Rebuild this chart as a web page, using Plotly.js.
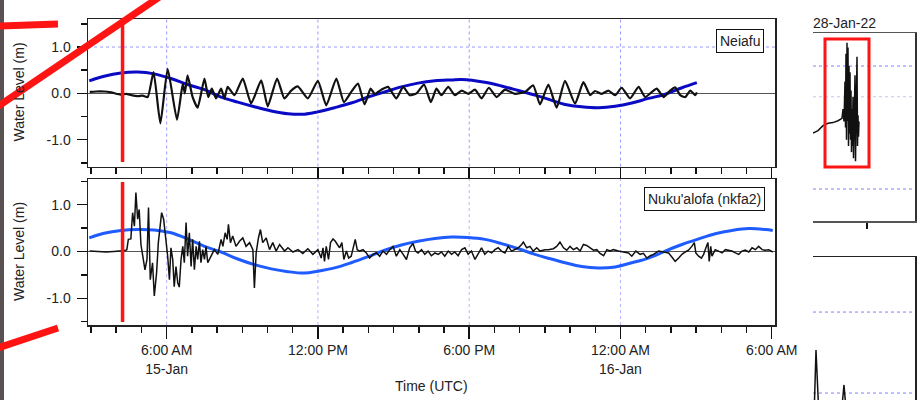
<!DOCTYPE html>
<html>
<head>
<meta charset="utf-8">
<script src="https://cdn.plot.ly/plotly-3.0.1.min.js"></script>
<style>html,body{margin:0;padding:0;background:#fff;}#chart{width:922px;height:400px;}</style>
</head>
<body>
<div id="chart"></div>
<script>
// ---------- data (hours since 2022-01-15 00:00 UTC, water level in m) ----------
const neiafuHours = [2.95,3.2,3.52,3.8,4.19,4.4,4.6,4.85,5.05,5.25,5.48,5.75,6.04,6.41,6.64,6.72,6.83,7.03,7.23,7.5,7.65,7.79,7.96,8.16,8.29,8.42,8.69,9.02,9.35,9.75,10.01,10.38,10.67,10.94,11.2,11.6,12.0,12.33,12.73,13.03,13.32,13.59,13.85,14.09,14.25,14.52,14.78,15.11,15.38,15.64,15.91,16.21,16.48,16.7,16.9,17.17,17.43,17.7,17.96,18.23,18.49,18.78,19.09,19.42,19.81,20.21,20.54,20.81,21.14,21.47,21.8,22.2,22.53,22.8,22.99,23.26,23.52,23.79,24.05,24.38,24.72,24.98,25.25,25.44,25.71,25.97,26.17,26.37,26.57,26.77,26.97,27.03];
const neiafuLevel = [0.03,0.04,0.04,0.02,-0.03,-0.01,-0.04,-0.06,-0.05,-0.08,0.46,-0.65,0.53,-0.57,0.21,0.0,0.39,-0.08,-0.31,0.32,-0.08,0.10,-0.11,0.10,-0.11,0.14,-0.04,0.32,-0.22,0.28,-0.28,0.32,-0.11,0.06,0.15,-0.11,0.27,-0.26,0.32,-0.19,0.03,0.21,-0.24,0.10,-0.01,0.08,0.14,-0.11,0.14,-0.04,0.0,0.19,-0.19,0.10,-0.04,0.14,-0.04,0.06,-0.01,0.08,-0.11,0.12,-0.08,0.08,-0.01,0.03,0.17,-0.24,0.19,-0.31,0.27,-0.22,0.24,-0.04,0.05,-0.01,0.06,-0.04,0.12,-0.11,0.14,-0.08,0.03,0.10,-0.08,0.06,0.13,-0.04,-0.08,0.06,-0.04,0.02];

const neiafuTideHours = [2.93,3.52,4.19,4.85,5.51,6.17,6.83,7.5,8.16,8.82,9.48,10.15,10.81,11.47,12.0,12.66,13.32,13.99,14.65,15.31,15.97,16.64,17.3,17.7,18.62,19.28,19.95,20.61,21.22,21.8,22.46,23.13,23.79,24.45,25.11,25.78,26.44,27.03];
const neiafuTide = [0.27,0.37,0.44,0.46,0.42,0.32,0.19,0.08,-0.08,-0.19,-0.29,-0.38,-0.44,-0.45,-0.40,-0.31,-0.21,-0.08,0.03,0.14,0.22,0.27,0.29,0.30,0.24,0.16,0.06,-0.04,-0.14,-0.24,-0.29,-0.31,-0.28,-0.21,-0.11,-0.02,0.12,0.23];

const nukuHoursA = [2.95,3.3,3.6,3.9,4.2,4.35,4.42,4.48,4.58,4.65,4.72,4.78,4.85,4.91,4.98,5.05,5.14,5.22,5.28,5.35,5.44,5.51,5.60,5.67,5.75,5.80,5.88,5.97,6.04,6.11,6.17,6.24,6.30,6.37,6.44,6.50,6.57,6.64,6.70,6.77,6.83,6.90,6.97,7.03,7.10,7.17,7.23,7.30,7.36,7.43,7.50,7.56,7.63,7.76,7.89,8.03,8.16,8.23,8.32,8.40,8.45,8.53,8.62,8.75,8.89,9.02,9.15,9.29,9.42,9.48,9.55,9.64,9.72,9.81,9.95,10.08,10.21,10.34,10.48,10.68,10.81,11.01,11.21,11.40,11.60,11.80,12.0];
const nukuLevelA = [0.01,0.0,-0.01,0.0,0.01,0.02,0.04,0.26,0.27,0.83,0.54,1.26,0.69,0.90,0.15,-0.10,-0.39,-0.17,0.94,-0.60,-0.24,-0.95,-0.46,0.19,0.62,0.83,0.69,0.29,-0.10,-0.60,0.08,-0.17,-0.75,-0.32,-0.67,-0.76,-0.17,0.11,-0.24,0.62,-0.10,0.40,-0.32,0.26,-0.39,0.11,-0.17,0.22,-0.24,0.04,-0.17,0.11,-0.24,-0.10,0.04,-0.06,0.26,0.11,0.40,0.26,0.58,0.19,0.33,0.11,0.22,0.29,0.11,0.19,0.04,-0.78,-0.03,0.29,0.47,0.19,0.29,0.04,0.19,0.01,0.15,0.01,0.08,-0.01,0.04,-0.04,0.06,-0.06,0.04];
const nukuHoursB = [12.13,12.20,12.26,12.33,12.42,12.50,12.60,12.69,12.77,12.86,12.95,13.03,13.13,13.22,13.32,13.42,13.48,13.56,13.66,13.79,13.92,14.05,14.19,14.32,14.45,14.58,14.72,14.85,14.98,15.11,15.25,15.38,15.51,15.64,15.77,15.87,15.97,16.11,16.24,16.37,16.50,16.64,16.77,16.90,17.03,17.17,17.30,17.43,17.56,17.70,17.83,17.96,18.09,18.23,18.36,18.49,18.62,18.75,18.89,19.02,19.15,19.28,19.42,19.55,19.68,19.81,19.95,20.08,20.15,20.28,20.41,20.54,20.68,20.81,21.01];
const nukuLevelB = [-0.14,0.08,-0.21,0.11,-0.17,0.19,0.27,0.22,0.15,0.08,0.19,-0.17,0.01,-0.14,-0.10,0.11,0.26,0.04,0.01,0.04,-0.03,-0.14,-0.06,-0.03,-0.10,0.01,-0.06,0.04,0.11,-0.10,0.04,-0.06,-0.17,0.08,0.17,0.01,-0.03,0.04,-0.06,0.01,-0.09,-0.03,-0.06,-0.01,-0.10,0.01,-0.06,-0.01,-0.09,0.04,0.08,-0.06,0.01,-0.17,-0.03,0.08,-0.06,0.01,-0.03,0.04,0.08,0.01,-0.03,0.11,0.01,0.04,0.08,0.15,0.20,0.08,0.11,0.01,0.08,0.01,0.04];
const nukuHoursC = [21.14,21.34,21.47,21.60,21.74,21.87,22.00,22.13,22.27,22.40,22.53,22.66,22.80,22.93,23.06,23.19,23.33,23.46,23.59,23.72,23.92,24.12,24.32,24.45,24.61,24.78,24.91,25.05,25.18,25.31,25.51,25.71,25.91,26.07,26.17,26.31,26.44,26.57,26.70,26.83,26.93,26.99,27.10,27.21,27.30,27.39,27.47,27.52,27.58,27.63,27.76,27.89,28.03,28.16,28.29,28.42,28.56,28.69,28.82,28.95,29.09,29.22,29.35,29.48,29.62,29.75,29.88,30.04];
const nukuLevelC = [0.04,0.06,0.11,0.20,0.08,0.03,0.11,0.04,0.08,0.01,0.15,0.13,0.08,0.03,0.04,-0.04,-0.09,0.04,0.01,0.04,0.01,-0.01,-0.03,-0.10,0.01,-0.06,-0.04,-0.14,-0.09,-0.06,0.01,-0.01,-0.03,-0.14,-0.21,-0.14,-0.06,-0.01,0.03,0.11,0.19,-0.03,-0.10,-0.14,-0.06,0.08,0.19,-0.21,0.11,-0.10,0.04,0.01,-0.03,0.04,0.03,0.01,-0.03,-0.06,0.01,0.03,-0.01,0.08,0.04,0.11,0.04,0.03,0.04,-0.01];

const nukuTideHours = [2.93,3.52,4.19,4.85,5.51,6.17,6.83,7.5,8.16,8.82,9.48,10.15,10.81,11.47,12.0,12.66,13.32,13.99,14.65,15.31,15.97,16.64,17.3,17.96,18.62,19.28,19.95,20.61,21.18,21.8,22.46,23.13,23.79,24.45,25.11,25.78,26.44,27.1,27.76,28.42,29.09,29.75,30.04];
const nukuTide = [0.29,0.39,0.45,0.47,0.46,0.40,0.27,0.11,-0.01,-0.16,-0.28,-0.37,-0.43,-0.46,-0.42,-0.35,-0.24,-0.11,0.03,0.14,0.22,0.28,0.31,0.30,0.26,0.17,0.06,-0.06,-0.15,-0.24,-0.32,-0.35,-0.33,-0.24,-0.14,0.01,0.15,0.27,0.38,0.45,0.49,0.47,0.45];

// right-hand cropped panels (arbitrary time units)
const sideTopX = [0,5,10,15,20,25,29,30,31,32,32.5,33,33.5,34,34.5,35,35.5,36,36.5,37,37.5,38,38.5,39,39.5,40,40.5,41,41.5,42,42.5,43,43.5,44,44.5,45,45.5,46];
const sideTopY = [-0.09,-0.05,0.03,0.07,0.08,0.11,0.15,0.3,0.1,0.75,0.0,1.2,-0.2,1.38,0.1,1.3,-0.3,1.0,-0.1,0.9,-0.2,0.6,-0.4,0.3,-0.3,0.5,-0.5,0.1,-0.2,0.85,-0.55,0.2,-0.1,1.15,-0.3,0.2,-0.15,0.1];
const sideBotX = [0,1.5,3,4.5,6,28,30,31,32,34];
const sideBotY = [-0.3,-0.1,0.53,-0.1,-0.3,-0.3,-0.05,0.1,-0.05,-0.3];

// ticks / labels
const majorHours = [6,12,18,24,30];
const majorLabels = ['6:00 AM<br>15-Jan','12:00 PM','6:00 PM','12:00 AM<br>16-Jan','6:00 AM'];
const gridHours = [6,12,18,24];
const levelTicks = [-1,0,1];
const levelLabels = ['-1.0','0.0','1.0'];
const eruptionHour = 4.25;
const stationNames = ['Neiafu', "Nuku'alofa (nkfa2)"];

// ---------- figure ----------
const BLACK = '#111';
const traces = [
  {x: neiafuTideHours, y: neiafuTide, xaxis:'x', yaxis:'y', mode:'lines', line:{color:'#0a0ac4', width:3, shape:'spline'}},
  {x: neiafuHours, y: neiafuLevel, xaxis:'x', yaxis:'y', mode:'lines', line:{color:BLACK, width:2.2, shape:'spline', smoothing:0.5}},
  {x: nukuTideHours, y: nukuTide, xaxis:'x2', yaxis:'y2', mode:'lines', line:{color:'#1f5cff', width:3, shape:'spline'}},
  {x: nukuHoursA.concat(nukuHoursB, nukuHoursC), y: nukuLevelA.concat(nukuLevelB, nukuLevelC), xaxis:'x2', yaxis:'y2', mode:'lines', line:{color:BLACK, width:1.5}},
  {x: sideTopX, y: sideTopY, xaxis:'x3', yaxis:'y3', mode:'lines', line:{color:BLACK, width:1.5}},
  {x: sideBotX, y: sideBotY, xaxis:'x4', yaxis:'y4', mode:'lines', line:{color:BLACK, width:1.5}}
];

const W = 827, H = 400, L = 88;
const px = v => (v - L) / W;      // pixel x -> paper
const py = v => (H - v) / H;      // pixel y -> paper

const xCommon = {
  range:[2.88, 30.13], domain:[0, px(775)], showgrid:false, zeroline:false,
  showline:true, linecolor:'#222', linewidth:1.5, mirror:true,
  tickmode:'array', tickvals: majorHours, ticks:'outside', ticklen:11, tickwidth:1.5, tickcolor:'#111',
  minor:{tickmode:'linear', tick0:0, dtick:1, ticks:'outside', ticklen:6, tickwidth:1.5, tickcolor:'#111', showgrid:false}
};
const yCommon = {
  showgrid:false, zeroline:true, zerolinecolor:'#555', zerolinewidth:1.5,
  showline:true, linecolor:'#222', linewidth:1.5, mirror:true,
  tickmode:'array', tickvals: levelTicks, ticktext: levelLabels, ticks:'outside', ticklen:10, tickwidth:1.5, tickcolor:'#111',
  ticklabelstandoff:3,
  minor:{tickmode:'linear', tick0:0, dtick:0.5, ticks:'outside', ticklen:6, tickwidth:1.5, tickcolor:'#111', showgrid:false}
};

const shapes = [];
// grid lines
gridHours.forEach(h => {
  shapes.push({type:'line', layer:'below', xref:'x', yref:'y domain', x0:h, x1:h, y0:0, y1:1, line:{color:'#9a9aff', width:1, dash:'dot'}});
  shapes.push({type:'line', layer:'below', xref:'x2', yref:'y2 domain', x0:h, x1:h, y0:0, y1:1, line:{color:'#b4b4ff', width:1, dash:'dot'}});
});
shapes.push({type:'line', layer:'below', xref:'x domain', yref:'y', x0:0, x1:1, y0:1, y1:1, line:{color:'#9a9aff', width:1, dash:'dot'}});
// side panel grids
shapes.push({type:'line', layer:'below', xref:'x3 domain', yref:'y3', x0:0, x1:1, y0:1, y1:1, line:{color:'#8080ff', width:1, dash:'dot'}});
shapes.push({type:'line', layer:'below', xref:'x3 domain', yref:'y3', x0:0, x1:1, y0:0.5, y1:0.5, line:{color:'#c8c8f0', width:1, dash:'dot'}});
shapes.push({type:'line', layer:'below', xref:'x3 domain', yref:'y3', x0:0, x1:1, y0:-1, y1:-1, line:{color:'#8080ff', width:1, dash:'dot'}});
shapes.push({type:'line', layer:'below', xref:'x4 domain', yref:'y4', x0:0, x1:1, y0:1, y1:1, line:{color:'#8080ff', width:1, dash:'dot'}});
shapes.push({type:'line', layer:'below', xref:'x4 domain', yref:'y4', x0:0, x1:1, y0:0, y1:0, line:{color:'#8080ff', width:1, dash:'dot'}});
// eruption markers
shapes.push({type:'line', xref:'x', yref:'paper', x0:eruptionHour, x1:eruptionHour, y0:py(162), y1:py(20), line:{color:'#ff1414', width:3.5}});
shapes.push({type:'line', xref:'x2', yref:'paper', x0:eruptionHour, x1:eruptionHour, y0:py(322), y1:py(182), line:{color:'#ff1414', width:3.5}});
// red frame on side panel
shapes.push({type:'rect', xref:'paper', yref:'paper', x0:px(825), x1:px(869), y0:py(167), y1:py(39), line:{color:'#ff1414', width:3}});
// left dark strip
shapes.push({type:'rect', xref:'paper', yref:'paper', x0:px(-2), x1:px(4), y0:-0.01, y1:1.01, fillcolor:'#5a5252', line:{width:0}});
// red annotation strokes on the left
shapes.push({type:'line', xref:'paper', yref:'paper', x0:px(-12), y0:py(113.1), x1:px(165), y1:py(-6.8), line:{color:'#ff1414', width:7}});
shapes.push({type:'line', xref:'paper', yref:'paper', x0:px(-10), y0:py(26.3), x1:px(58), y1:py(24), line:{color:'#ff1414', width:7}});
shapes.push({type:'line', xref:'paper', yref:'paper', x0:px(-10), y0:py(350.6), x1:px(58), y1:py(328), line:{color:'#ff1414', width:7}});

const font = {family:'Liberation Sans, Arial, sans-serif', size:14, color:'#222'};
const annotations = [
  {text:'Water Level (m)', xref:'paper', yref:'paper', x:px(19), y:py(92.5), textangle:-90, showarrow:false, xanchor:'center', yanchor:'middle', font:font},
  {text:'Water Level (m)', xref:'paper', yref:'paper', x:px(19), y:py(252), textangle:-90, showarrow:false, xanchor:'center', yanchor:'middle', font:font},
  {text:'Time (UTC)', xref:'paper', yref:'paper', x:px(431.5), y:py(386), showarrow:false, xanchor:'center', yanchor:'middle', font:font},
  {text:stationNames[0], xref:'paper', yref:'paper', x:px(764), y:py(29), showarrow:false, xanchor:'right', yanchor:'top', bgcolor:'#fff', bordercolor:'#111', borderwidth:1, borderpad:3, font:font},
  {text:stationNames[1], xref:'paper', yref:'paper', x:px(765), y:py(187), showarrow:false, xanchor:'right', yanchor:'top', bgcolor:'#fff', bordercolor:'#111', borderwidth:1, borderpad:3, font:font},
  {text:'28-Jan-22', xref:'paper', yref:'paper', x:px(811), y:py(22.5), showarrow:false, xanchor:'left', yanchor:'middle', font:font}
];

const layout = {
  width:922, height:400, margin:{l:L, r:7, t:0, b:0},
  paper_bgcolor:'#fff', plot_bgcolor:'#fff', showlegend:false, font:font,
  xaxis: Object.assign({}, xCommon, {anchor:'y', showticklabels:false}),
  xaxis2: Object.assign({}, xCommon, {anchor:'y2', ticktext: majorLabels, ticklen:12, ticklabelstandoff:0}),
  yaxis: Object.assign({}, yCommon, {anchor:'x', domain:[py(166.5), py(19)], range:[-1.58, 1.605]}),
  yaxis2: Object.assign({}, yCommon, {anchor:'x2', domain:[py(325), py(179)], range:[-1.57, 1.55]}),
  xaxis3: {anchor:'y3', domain:[px(813), 1], range:[0, 102], showgrid:false, zeroline:false, showline:true, mirror:true, linecolor:'#555', linewidth:1.5,
           tickmode:'array', tickvals:[54], ticks:'outside', ticklen:6, tickwidth:1.5, tickcolor:'#111', showticklabels:false},
  yaxis3: {anchor:'x3', domain:[py(221), py(33)], range:[-1.52, 1.537], side:'right', showgrid:false, zeroline:false, showline:true, linecolor:'#333', linewidth:1.5, ticks:'', showticklabels:false},
  xaxis4: {anchor:'y4', domain:[px(813), 1], range:[0, 102], side:'top', showgrid:false, zeroline:false, showline:true, linecolor:'#222', linewidth:1.5, ticks:'', showticklabels:false},
  yaxis4: {anchor:'x4', domain:[0, py(257)], range:[-0.086, 1.68], side:'right', showgrid:false, zeroline:false, showline:true, linecolor:'#222', linewidth:1.5, ticks:'', showticklabels:false},
  shapes: shapes,
  annotations: annotations
};

Plotly.newPlot('chart', traces, layout, {staticPlot:true, displayModeBar:false});
</script>
</body>
</html>
